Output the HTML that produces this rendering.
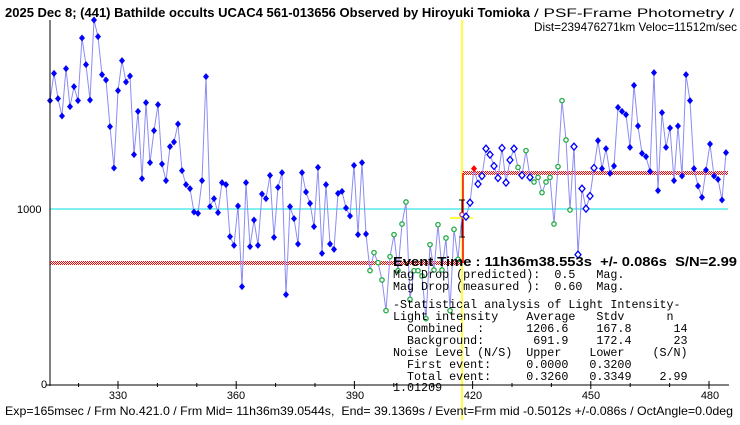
<!DOCTYPE html>
<html><head><meta charset="utf-8"><style>
body{margin:0;background:#fff;width:740px;height:425px;overflow:hidden}
svg{display:block}
.m text{white-space:pre}
</style></head><body>
<svg id="s" width="740" height="425" xmlns="http://www.w3.org/2000/svg" font-family="Liberation Sans, sans-serif">
<defs>
<pattern id="chk" width="2" height="2" patternUnits="userSpaceOnUse"><rect width="1" height="1" fill="#f00"/><rect x="1" y="1" width="1" height="1" fill="#f00"/></pattern>
</defs>
<rect width="740" height="425" fill="#fff"/>
<text x="5" y="17" font-size="13" font-weight="bold" textLength="525" lengthAdjust="spacingAndGlyphs">2025 Dec 8; (441) Bathilde occults UCAC4 561-013656 Observed by Hiroyuki Tomioka</text>
<text x="534" y="17" font-size="12" textLength="200" lengthAdjust="spacingAndGlyphs">/ PSF-Frame Photometry /</text>
<text x="534" y="31" font-size="12" textLength="203" lengthAdjust="spacingAndGlyphs">Dist=239476271km Veloc=11512m/sec</text>
<line x1="50" y1="209" x2="728" y2="209" stroke="#00e0e0" stroke-width="1"/>
<line x1="462" y1="20" x2="462" y2="420" stroke="#ffff00" stroke-width="1.5"/>
<rect x="50" y="261" width="412" height="4" fill="url(#chk)"/>
<rect x="463" y="171" width="265" height="4" fill="url(#chk)"/>
<line x1="463" y1="263" x2="463" y2="173" stroke="#f00" stroke-width="1.5"/>
<line x1="450" y1="218" x2="473" y2="218" stroke="#ff0" stroke-width="1.5"/>
<line x1="462" y1="200" x2="462" y2="237" stroke="#000"/>
<line x1="459" y1="200" x2="465" y2="200" stroke="#000"/>
<line x1="459" y1="237" x2="465" y2="237" stroke="#000"/>
<g id="data"></g>
<line x1="50" y1="20" x2="50" y2="386" stroke="#000"/>
<line x1="46" y1="385" x2="729" y2="385" stroke="#000"/>
<g id="ticks" stroke="#000"></g>
<text x="17" y="213" font-size="11">1000</text>
<text x="41" y="388" font-size="11">0</text>
<g font-size="11" text-anchor="middle">
<text x="118" y="399">330</text><text x="236" y="399">360</text><text x="355" y="399">390</text><text x="473" y="399">420</text><text x="591" y="399">450</text><text x="710" y="399">480</text>
</g>
<text x="393" y="266" font-size="13" font-weight="bold" textLength="344" lengthAdjust="spacingAndGlyphs" style="white-space:pre">Event Time : 11h36m38.553s  +/- 0.086s  S/N=2.99</text>
<g class="m" font-family="Liberation Mono, monospace" font-size="11.7">
<text x="393" y="278">Mag Drop (predicted):  0.5   Mag.</text>
<text x="393" y="290">Mag Drop (measured ):  0.60  Mag.</text>
<text x="393" y="308">-Statistical analysis of Light Intensity-</text>
<text x="393" y="320">Light intensity    Average   Stdv      n</text>
<text x="393" y="332">  Combined  :      1206.6    167.8      14</text>
<text x="393" y="344">  Background:       691.9    172.4      23</text>
<text x="393" y="356">Noise Level (N/S)  Upper    Lower    (S/N)</text>
<text x="393" y="368">  First event:     0.0000   0.3200</text>
<text x="393" y="380">  Total event:     0.3260   0.3349    2.99</text>
<text x="393" y="391">1.01209</text>
</g>
<text x="5" y="415" font-size="12" textLength="728" lengthAdjust="spacingAndGlyphs" style="white-space:pre">Exp=165msec / Frm No.421.0 / Frm Mid= 11h36m39.0544s,  End= 39.1369s / Event=Frm mid -0.5012s +/-0.086s / OctAngle=0.0deg</text>
</svg>
<script>
var z3=[[30,272],[42,190],[54,266],[66,318],[78,176],[90,290],[102,230],[114,272],[126,84],[138,164],[150,270],[162,30],[174,80],[186,194],[198,210],[210,350],[222,474],[234,242],[246,152],[258,216],[270,198],[282,434],[294,304],[306,506],[318,278],[330,458],[342,362],[354,284],[366,462],[378,512],[390,410],[402,396],[414,342],[426,482],[438,524],[450,536],[462,606],[474,610],[486,512],[498,200],[510,590],[522,566],[534,608],[546,518],[558,524],[570,680],[582,706],[594,588],[606,830],[618,518],[630,710],[642,630],[654,706],[666,552],[678,566],[690,496],[702,682],[714,532],[726,488],[738,854],[750,590],[762,626],[774,702],[786,488],[798,546],[810,580],[822,650],[834,472],[846,730],[858,524],[870,702],[882,718],[894,550],[906,544],[918,594],[930,618],[942,466],[954,674]];
var z4=[[6,308],[18,522],[30,632],[42,578],[54,608],[66,660],[78,752],[90,590],[102,524],[114,632],[126,492],[138,426],[150,718],[162,632],[174,632],[186,648],[198,776],[210,554],[222,630],[234,494],[246,630],[258,534],[270,752],[282,508],[294,598],[306,464],[318,470],[330,428],[342,326],[354,372],[366,348],[378,266],[390,284],[402,318],[414,354],[426,264],[438,368],[450,300],[462,266],[474,322],[486,346],[498,272],[510,352],[522,366],[534,352],[546,398],[558,366],[570,352],[582,492],[594,320],[606,122],[618,240],[630,450],[642,260],[654,584],[666,386],[678,446],[690,408],[702,324],[714,242],[726,326],[738,266],[750,340],[762,318],[774,142],[786,154],[798,164],[810,262],[822,76],[834,198],[846,280],[858,290],[870,334],[882,38],[894,392],[906,158],[918,262],[930,204],[942,362],[954,198],[966,348],[978,44],[990,122],[1002,326],[1014,378],[1026,412],[1038,330],[1050,252],[1062,348],[1074,358],[1086,420],[1098,278]];
var pts=[];
z3.forEach(function(p){pts.push([40+p[0]/3,10+p[1]/3,'f']);});
var greens=[474,498,522,534,546,558,570,582,594,606,618,630];
z4.forEach(function(p){var X=p[0],t='f';
 if(X>=30&&X<=294)t='g';else if(X==306)t='r';else if(X==342)t='R';
 else if(X>=318&&X<=702)t=greens.indexOf(X)>=0?'g':'b';
 pts.push([360+X/3,60+p[1]/3,t]);});
var ns='http://www.w3.org/2000/svg',g=document.getElementById('data');
var d=pts.map(function(p,i){return (i?'L':'M')+p[0].toFixed(1)+' '+p[1].toFixed(1);}).join('');
var pl=document.createElementNS(ns,'path');pl.setAttribute('d',d);pl.setAttribute('fill','none');pl.setAttribute('stroke','#8c8cf4');pl.setAttribute('stroke-width','1');g.appendChild(pl);
pts.forEach(function(p){var x=p[0],y=p[1],e;
 if(p[2]=='g'||p[2]=='r'){e=document.createElementNS(ns,'circle');e.setAttribute('cx',x);e.setAttribute('cy',y);e.setAttribute('r',2.2);e.setAttribute('fill','#fff');e.setAttribute('stroke',p[2]=='g'?'#22aa44':'#c03050');e.setAttribute('stroke-width','1.3');}
 else{e=document.createElementNS(ns,'polygon');e.setAttribute('points',x+','+(y-3.5)+' '+(x+3)+','+y+' '+x+','+(y+3.5)+' '+(x-3)+','+y);
  if(p[2]=='b'){e.setAttribute('fill','#fff');e.setAttribute('stroke','#0000ff');e.setAttribute('stroke-width','1.3');}
  else e.setAttribute('fill',p[2]=='R'?'#ff0000':'#0000ff');}
 g.appendChild(e);});
var tk=document.getElementById('ticks'),h='';
for(var f=320;f<=480;f+=10){var x=118+(f-330)*3.94;var big=(f%30==0);h+='<line x1="'+x+'" y1="'+(big?381:383)+'" x2="'+x+'" y2="'+(big?389:387)+'"/>';}
tk.innerHTML=h;
</script>
</body></html>
